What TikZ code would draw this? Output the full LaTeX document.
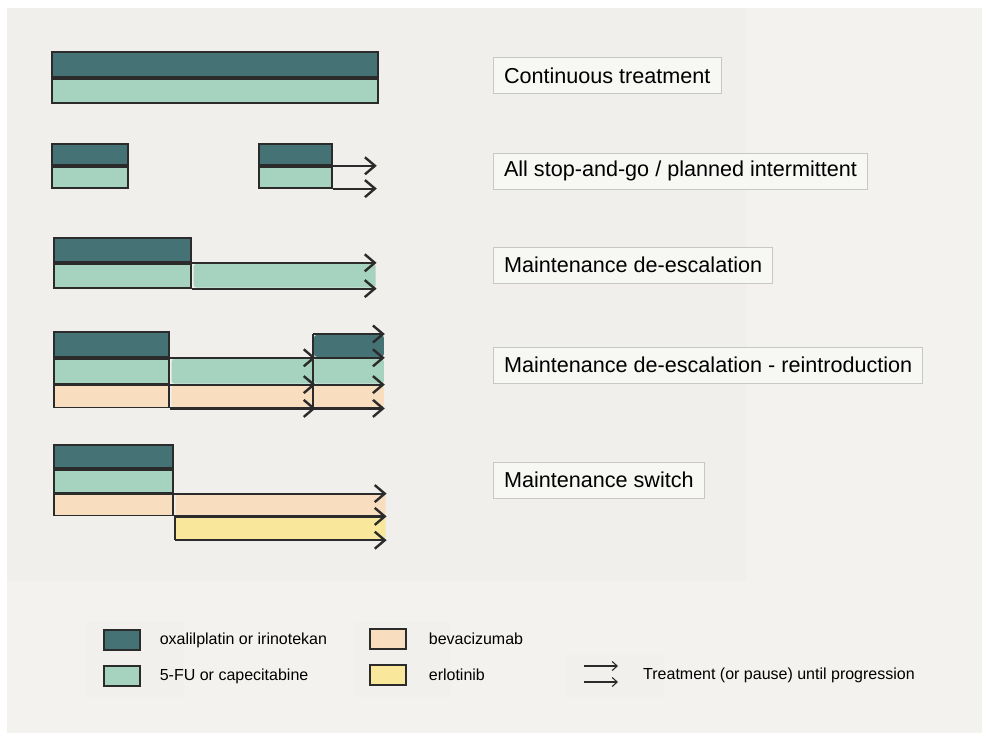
\documentclass[tikz,border=0pt]{standalone}
\usepackage{fontspec}
\setmainfont{Liberation Sans}
\usetikzlibrary{arrows.meta, positioning}

\definecolor{paper}{HTML}{F3F2EE}
\definecolor{paperin}{HTML}{F0EFEB}
\definecolor{keypaper}{HTML}{F1F0EC}
\definecolor{oxacol}{HTML}{447275}
\definecolor{fucol}{HTML}{A6D2C0}
\definecolor{bevcol}{HTML}{F8DDBF}
\definecolor{erlcol}{HTML}{F9E89C}
\definecolor{ink}{HTML}{2B2B2B}

\begin{document}
\begin{tikzpicture}[
    x=1pt, y=-1pt,
    bar/.style={rectangle, draw=ink, line width=1.8pt, anchor=north west, inner sep=0pt, minimum height=24pt},
    oxabar/.style={bar, fill=oxacol},
    fubar/.style={bar, fill=fucol},
    bevbar/.style={bar, fill=bevcol},
    erlbar/.style={bar, fill=erlcol},
    extfill/.style={draw=none, rounded corners=3pt},
    tagbox/.style={rectangle, draw=black!22, fill=white!35!paper, line width=1pt, anchor=west, minimum height=36pt, inner xsep=10.5pt, font=\fontsize{21.6}{26}\selectfont},
    swatch/.style={rectangle, draw=ink, line width=1.3pt, inner sep=0pt, minimum width=36pt, minimum height=20pt},
    keytext/.style={inner sep=0pt, font=\fontsize{16}{19}\selectfont},
    arrow/.style={-{Straight Barb[length=10pt, width=17pt, line width=2.4pt]}, draw=ink, line width=2.2pt},
    keyarrow/.style={-{Straight Barb[length=5pt, width=9pt]}, draw=ink, line width=1.1pt}
]

% page and panels
\useasboundingbox (0,0) rectangle (982,734);
\fill[white] (0,0) rectangle (982,734);
\fill[paper] (7,8) rectangle (982,733);
\fill[paperin] (7,8) rectangle (746,581);
\fill[keypaper] (86,622) rectangle (184,697);
\fill[keypaper] (354,622) rectangle (451,697);
\fill[keypaper] (566,655) rectangle (664,697);

% continuous treatment
\node[oxabar, minimum width=326pt, minimum height=25pt] (contoxa) at (51,51) {};
\node[fubar, minimum width=326pt, minimum height=24pt] (contfu) at (contoxa.south west) {};
\node[tagbox] (conttag) at (493,75.5) {Continuous treatment};

% stop-and-go
\node[oxabar, minimum width=76pt, minimum height=21pt] (sgoxa) at (51,143) {};
\node[fubar, minimum width=76pt, minimum height=21pt] (sgfu) at (sgoxa.south west) {};
\node[oxabar, minimum width=73pt, minimum height=21pt] (sgoxab) at (258,143) {};
\node[fubar, minimum width=73pt, minimum height=21pt] (sgfub) at (sgoxab.south west) {};
\coordinate[right=44pt of sgoxab.south east] (sgend1);
\coordinate[right=44pt of sgfub.south east] (sgend2);
\draw[arrow] (sgoxab.south east) -- (sgend1);
\draw[arrow] (sgfub.south east) -- (sgend2);
\node[tagbox] (sgtag) at (493,171) {All stop-and-go / planned intermittent};

% maintenance de-escalation
\node[oxabar, minimum width=137pt, minimum height=24pt] (deoxa) at (53,237) {};
\node[fubar, minimum width=137pt, minimum height=24pt] (defu) at (deoxa.south west) {};
\node[fubar, extfill, minimum width=182pt, minimum height=24pt, xshift=1pt] (defuext) at (defu.north east) {};
\draw[arrow] (defu.north east) -- (defuext.north east);
\draw[arrow] (defu.south east) -- (defuext.south east);
\node[tagbox] (detag) at (493,265) {Maintenance de-escalation};

% de-escalation and reintroduction
\node[oxabar, minimum width=115pt, minimum height=25pt] (rioxa) at (53,331) {};
\node[fubar, minimum width=115pt, minimum height=25pt] (rifu) at (rioxa.south west) {};
\node[bevbar, minimum width=115pt, minimum height=22pt] (ribev) at (rifu.south west) {};
\node[fubar, extfill, minimum width=143pt, minimum height=25pt, xshift=1pt] (rifumid) at (rifu.north east) {};
\node[bevbar, extfill, minimum width=143pt, minimum height=22pt, xshift=1pt] (ribevmid) at (ribev.north east) {};
\draw[arrow] (rifu.north east) -- (rifumid.north east);
\draw[arrow] (rifu.south east) -- (rifumid.south east);
\draw[arrow] (ribev.south east) -- (ribevmid.south east);
\node[oxabar, extfill, minimum width=70pt, minimum height=22pt] (rioxaend) at (313,334) {};
\node[fubar, extfill, minimum width=70pt, minimum height=25pt] (rifuend) at (rioxaend.south west) {};
\node[bevbar, extfill, minimum width=70pt, minimum height=22pt] (ribevend) at (rifuend.south west) {};
\draw[ink, line width=1.8pt] (rioxaend.north west) -- (ribevend.south west);
\draw[arrow] (rioxaend.north west) -- (rioxaend.north east);
\draw[arrow] (rifuend.north west) -- (rifuend.north east);
\draw[arrow] (ribevend.north west) -- (ribevend.north east);
\draw[arrow] (ribevend.south west) -- (ribevend.south east);
\node[tagbox] (ritag) at (493,365) {Maintenance de-escalation - reintroduction};

% maintenance switch
\node[oxabar, minimum width=119pt, minimum height=23pt] (swoxa) at (53,444) {};
\node[fubar, minimum width=119pt, minimum height=23pt] (swfu) at (swoxa.south west) {};
\node[bevbar, minimum width=119pt, minimum height=21pt] (swbev) at (swfu.south west) {};
\node[bevbar, extfill, minimum width=210pt, minimum height=21pt, xshift=1pt] (swbevext) at (swbev.north east) {};
\node[erlbar, extfill, minimum width=210pt, minimum height=22pt] (swerl) at (swbevext.south west) {};
\draw[ink, line width=1.8pt] (swerl.north west) -- (swerl.south west);
\draw[arrow] (swbev.north east) -- (swbevext.north east);
\draw[arrow] (swbev.south east) -- (swbevext.south east);
\draw[arrow] (swerl.south west) -- (swerl.south east);
\node[tagbox] (swtag) at (493,480) {Maintenance switch};

% legend
\node[swatch, fill=oxacol] (keyoxa) at (122,640) {};
\node[keytext, right=19pt of keyoxa] (keyoxatext) {oxalilplatin or irinotekan};
\node[swatch, fill=fucol] (keyfu) at (122,676) {};
\node[keytext, right=19pt of keyfu] (keyfutext) {5-FU or capecitabine};
\node[swatch, fill=bevcol] (keybev) at (388,639) {};
\node[keytext, right=22pt of keybev] (keybevtext) {bevacizumab};
\node[swatch, fill=erlcol] (keyerl) at (388,675) {};
\node[keytext, right=22pt of keyerl] (keyerltext) {erlotinib};
\coordinate (keyarr1) at (584,666);
\coordinate[right=34pt of keyarr1] (keyarr1end);
\coordinate (keyarr2) at (584,682);
\coordinate[right=34pt of keyarr2] (keyarr2end);
\draw[keyarrow] (keyarr1) -- (keyarr1end);
\draw[keyarrow] (keyarr2) -- (keyarr2end);
\node[keytext, anchor=west] (keyarrtext) at (643,675) {Treatment (or pause) until progression};

\end{tikzpicture}
\end{document}
